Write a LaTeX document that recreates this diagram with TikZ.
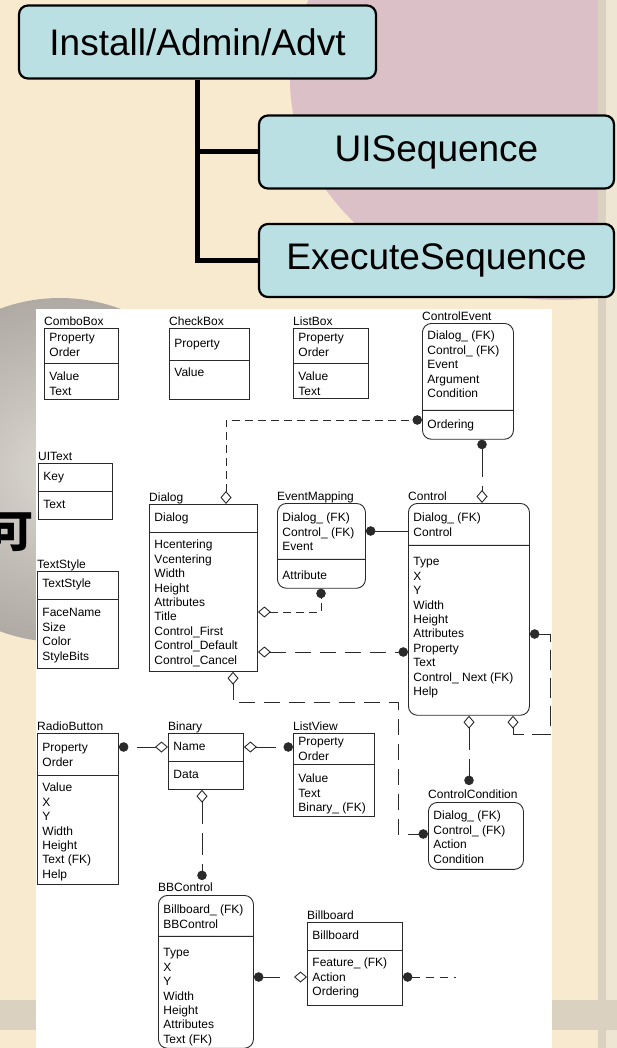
\documentclass[tikz,border=0pt]{standalone}
\usepackage{fontspec}
\setmainfont{Liberation Sans}
\newfontfamily\cjkfont{Noto Sans CJK SC}
\usetikzlibrary{shapes.multipart,arrows.meta}

\definecolor{slidebg}{HTML}{F8EACF}
\definecolor{mauve}{HTML}{DBC1C7}
\definecolor{stripe}{HTML}{DAD1C1}
\definecolor{edgebg}{HTML}{EFE5D3}
\definecolor{tabfill}{HTML}{BBE0E3}
\definecolor{erline}{HTML}{2A2A2A}
\definecolor{sphlight}{HTML}{DCD8D2}
\definecolor{sphdark}{HTML}{AFAAA3}

% fields of one part: [top pad]{width}{height}{rows}
\newcommand{\erfields}[4][7]{\parbox[c][#3pt][t]{#2pt}{\vspace*{#1pt}\strut#4}}

\tikzset{
  ball/.tip={Circle[length=9.5pt]},
  dia/.tip={Diamond[open,length=13pt,width=11pt]},
  tab/.style={draw=black, line width=2.2pt, fill=tabfill, rounded corners=9pt,
    minimum width=355pt, minimum height=73pt, inner sep=0pt,
    font=\fontsize{37}{40}\selectfont},
  trunk/.style={line width=5pt},
  ent/.style={draw=erline, line width=0.9pt, fill=white, rectangle split,
    rectangle split parts=2, inner xsep=5pt, inner ysep=0pt, anchor=north west,
    font=\fontsize{12}{14.4}\selectfont},
  rent/.style={ent, rounded corners=9pt},
  lbl/.style={anchor=base west, inner sep=0pt, font=\fontsize{12}{14.4}\selectfont},
  rel/.style={draw=erline, line width=0.9pt}
}

\begin{document}
\begin{tikzpicture}[x=1pt,y=-1pt]
\useasboundingbox (0,0) rectangle (617,1048);

% slide background
\fill[slidebg] (0,0) rectangle (617,1048);
\begin{scope}
  \clip (0,0) rectangle (598,1048);
  \fill[mauve] (560,80) ellipse (270 and 220);
\end{scope}
\fill[stripe] (598,0) rectangle (606,1048);
\fill[edgebg] (606,0) rectangle (617,1048);
\fill[stripe] (0,1000) rectangle (617,1030);
\shade[inner color=sphlight, outer color=sphdark] (60,470) circle (172);
\node[anchor=base east, inner sep=0pt, font=\cjkfont\bfseries\fontsize{44}{44}\selectfont] (hanzi) at (34,547) {可};
\fill[white] (36,309) rectangle (552,1048);

% sequence tree
\node[tab, minimum width=357pt] (inst) at (197.5,42) {Install/Admin/Advt};
\node[tab] (uiseq) at (436.5,152) {UISequence};
\node[tab] (exseq) at (436.5,260.5) {ExecuteSequence};
\draw[trunk] (inst.south) |- (uiseq.west) (inst.south) |- (exseq.west);

% tables
\node[ent] (cbo) at (44,328) {\erfields[3]{64}{34}{Property\\Order}\nodepart{two}\erfields{64}{35}{Value\\Text}};
\node[lbl] (cbol) at ([yshift=3pt]cbo.north west) {ComboBox};
\node[ent] (chk) at (169,328) {\erfields[9]{70}{31}{Property}\nodepart{two}\erfields[6]{70}{38}{Value}};
\node[lbl] (chkl) at ([yshift=3pt]chk.north west) {CheckBox};
\node[ent] (lbx) at (293,328) {\erfields[3]{65}{34}{Property\\Order}\nodepart{two}\erfields{65}{34}{Value\\Text}};
\node[lbl] (lbxl) at ([yshift=3pt]lbx.north west) {ListBox};
\node[rent] (cev) at (422,323) {\erfields[6]{81}{86}{Dialog\_ (FK)\\Control\_ (FK)\\Event\\Argument\\Condition}\nodepart{two}\erfields[8]{81}{28}{Ordering}};
\node[lbl] (cevl) at ([yshift=3pt]cev.north west) {ControlEvent};
\node[ent] (uit) at (38,463) {\erfields{64}{27}{Key}\nodepart{two}\erfields{64}{27}{Text}};
\node[lbl] (uitl) at ([yshift=3pt]uit.north west) {UIText};
\node[ent] (tsy) at (37,571) {\erfields[6]{71}{27}{TextStyle}\nodepart{two}\erfields{71}{68}{FaceName\\Size\\Color\\StyleBits}};
\node[lbl] (tsyl) at ([yshift=3pt]tsy.north west) {TextStyle};
\node[ent] (dlg) at (149,504) {\erfields{98}{27}{Dialog}\nodepart{two}\erfields[6]{98}{138}{Hcentering\\Vcentering\\Width\\Height\\Attributes\\Title\\Control\_First\\Control\_Default\\Control\_Cancel}};
\node[lbl] (dlgl) at ([yshift=3pt]dlg.north west) {Dialog};
\node[rent] (evm) at (277,503) {\erfields[8]{78}{55}{Dialog\_ (FK)\\Control\_ (FK)\\Event}\nodepart{two}\erfields[10]{78}{28}{Attribute}};
\node[lbl] (evml) at ([yshift=3pt]evm.north west) {EventMapping};
\node[rent] (ctl) at (408,503) {\erfields[8]{111}{41}{Dialog\_ (FK)\\Control}\nodepart{two}\erfields[10]{111}{169}{Type\\X\\Y\\Width\\Height\\Attributes\\Property\\Text\\Control\_ Next (FK)\\Help}};
\node[lbl] (ctll) at ([yshift=3pt]ctl.north west) {Control};
\node[ent] (rbt) at (37,733) {\erfields[8]{71}{41}{Property\\Order}\nodepart{two}\erfields[6]{71}{108}{Value\\X\\Y\\Width\\Height\\Text (FK)\\Help}};
\node[lbl] (rbtl) at ([yshift=3pt]rbt.north west) {RadioButton};
\node[ent] (bin) at (168,733) {\erfields{65}{27}{Name}\nodepart{two}\erfields{65}{27}{Data}};
\node[lbl] (binl) at ([yshift=3pt]bin.north west) {Binary};
\node[ent] (lvw) at (293,733) {\erfields[2]{71}{30}{Property\\Order}\nodepart{two}\erfields[8]{71}{51}{Value\\Text\\Binary\_ (FK)}};
\node[lbl] (lvwl) at ([yshift=3pt]lvw.north west) {ListView};
\node[rent, rectangle split parts=1] (ccd) at (428,802) {\erfields{85}{66}{Dialog\_ (FK)\\Control\_ (FK)\\Action\\Condition}};
\node[lbl] (ccdl) at ([yshift=4pt]ccd.north west) {ControlCondition};
\node[rent] (bbc) at (158,895) {\erfields[8]{85}{40}{Billboard\_ (FK)\\BBControl}\nodepart{two}\erfields[10]{85}{111}{Type\\X\\Y\\Width\\Height\\Attributes\\Text (FK)}};
\node[lbl] (bbcl) at ([yshift=4pt]bbc.north west) {BBControl};
\node[ent] (bbd) at (307,922) {\erfields{85}{27}{Billboard}\nodepart{two}\erfields[6]{85}{54}{Feature\_ (FK)\\Action\\Ordering}};
\node[lbl] (bbdl) at ([yshift=3pt]bbd.north west) {Billboard};

% relations
\draw[rel, dash pattern=on 8pt off 5pt, {dia}-{ball}] ([xshift=77pt]dlg.north west) |- ([yshift=-97pt]cev.north west);
\draw[rel, {ball}-] ([yshift=-28pt]evm.north east) -- ([yshift=-28pt]ctl.north west);
\draw[rel, dash pattern=on 8pt off 5pt, {dia}-{ball}] ([yshift=-108pt]dlg.north east) -| ([xshift=44pt]evm.south west);
\draw[rel, dash pattern=on 16pt off 9pt, {dia}-{ball}] ([yshift=-148pt]dlg.north east) -- ([yshift=-149pt]ctl.north west);
\draw[rel, dash pattern=on 28pt off 9pt, {ball}-{dia}] ([xshift=60pt]cev.south west) -- ([xshift=74pt]ctl.north west);
\draw[rel, dash pattern=on 20pt off 8pt, {ball}-{dia}] ([yshift=-131pt]ctl.north east) -| ([xshift=21pt,yshift=-19pt]ctl.south east) -| ([xshift=105pt]ctl.south west);
\draw[rel, dash pattern=on 22pt off 9pt, {dia}-{ball}] ([xshift=61pt]ctl.south west) -- ([xshift=61pt,yshift=4pt]ctl.south west |- ccdl.north);
\draw[rel, dash pattern=on 16pt off 9pt, {dia}-{ball}] ([xshift=84pt]dlg.south west) -- ++(0,31) -| ([xshift=-30pt,yshift=-32pt]ccd.north west) -- ([yshift=-32pt]ccd.north west);
\draw[rel, dash pattern=on 19pt off 20pt, {dia}-{ball}] ([yshift=-14pt]bin.north west) -- ([yshift=-14pt]rbt.north east);
\draw[rel, dash pattern=on 20pt off 20pt, {dia}-{ball}] ([yshift=-14pt]bin.north east) -- ([yshift=-14pt]lvw.north west);
\draw[rel, dash pattern=on 22pt off 9pt, {dia}-{ball}] ([xshift=34pt]bin.south west) -- ([xshift=34pt,yshift=2pt]bin.south west |- bbcl.north);
\draw[rel, dash pattern=on 17pt off 20pt, {ball}-{dia}] ([yshift=-82pt]bbc.north east) -- ([yshift=-55pt]bbd.north west);
\coordinate (bbend) at ([xshift=53pt,yshift=-55pt]bbd.north east);
\draw[rel, dash pattern=on 8pt off 6pt, {ball}-] ([yshift=-55pt]bbd.north east) -- (bbend);
\end{tikzpicture}
\end{document}
